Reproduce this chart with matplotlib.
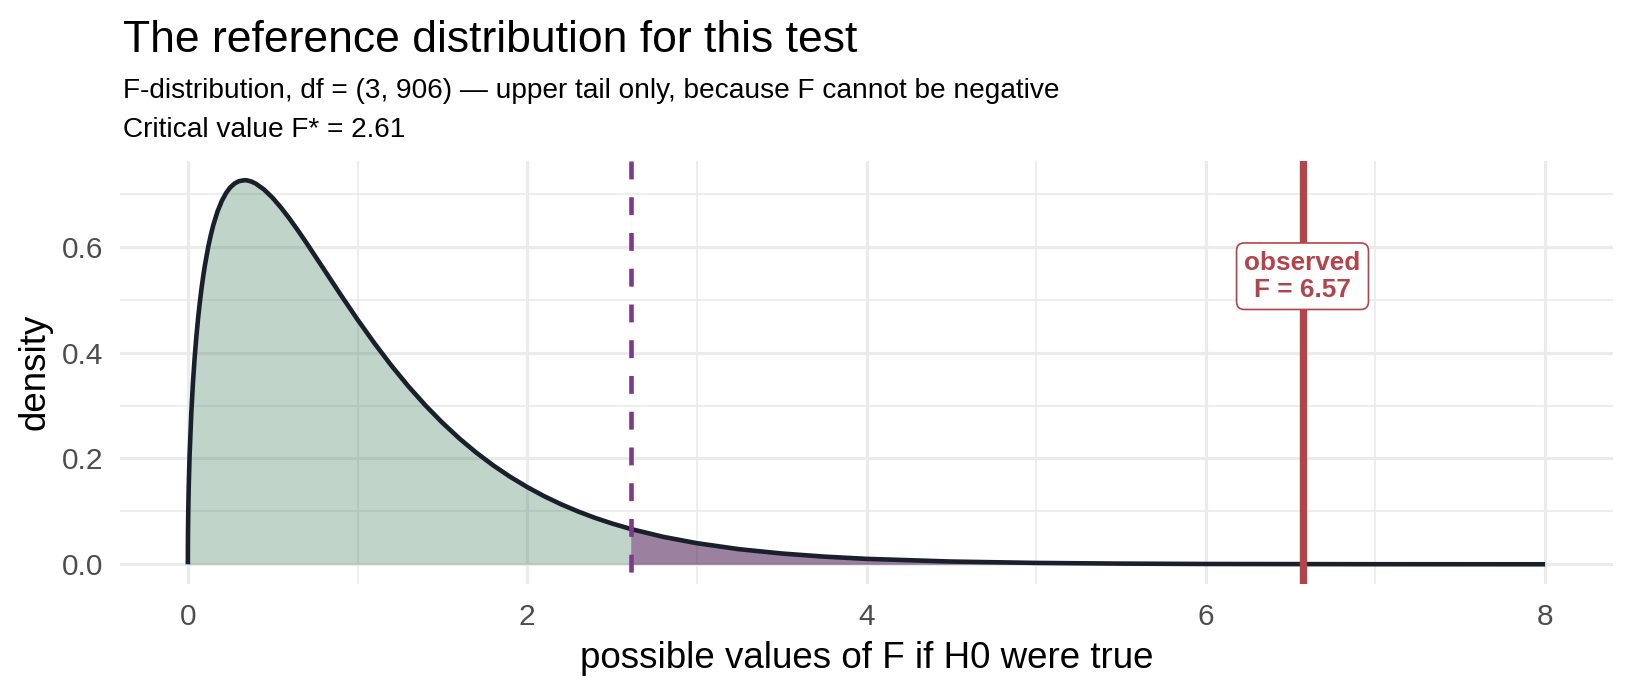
import matplotlib
matplotlib.use("Agg")
import matplotlib.pyplot as plt
import numpy as np

# ---- data ----
f_x = [0.0, 0.0002, 0.0005, 0.001, 0.0025, 0.005, 0.01, 0.02, 0.03, 0.04, 0.05,
       0.06, 0.07, 0.08, 0.09, 0.10, 0.12, 0.135, 0.15, 0.175, 0.20, 0.225, 0.25,
       0.275, 0.30, 0.3333, 0.35, 0.375, 0.40, 0.45, 0.50, 0.55, 0.60, 0.65, 0.70,
       0.80, 0.90, 1.00, 1.10, 1.20, 1.30, 1.40, 1.50, 1.60, 1.70, 1.80, 1.90,
       2.00, 2.10, 2.20, 2.30, 2.40, 2.50, 2.61, 2.80, 3.00, 3.25, 3.50, 3.75,
       4.00, 4.50, 5.00, 5.50, 6.00, 7.00, 8.00]
density = [0.0, 0.0293, 0.0464, 0.0655, 0.1032, 0.1455, 0.2042, 0.2845, 0.3433,
           0.3904, 0.4300, 0.4641, 0.4938, 0.5200, 0.5434, 0.5642, 0.5998, 0.6220,
           0.6411, 0.6670, 0.6868, 0.7016, 0.7124, 0.7196, 0.7240, 0.7259, 0.7255,
           0.7233, 0.7195, 0.7080, 0.6924, 0.6737, 0.6528, 0.6304, 0.6069, 0.5584,
           0.5098, 0.4625, 0.4176, 0.3754, 0.3363, 0.3004, 0.2676, 0.2379, 0.2110,
           0.1869, 0.1653, 0.1460, 0.1287, 0.1134, 0.0998, 0.0877, 0.0771, 0.0668,
           0.0520, 0.0399, 0.0285, 0.0204, 0.0145, 0.0103, 0.0052, 0.0026, 0.0013,
           0.0006, 0.00015, 0.00004]
f_crit = 2.61
f_obs = 6.57
df_num, df_den = 3, 906
x_ticks = [0, 2, 4, 6, 8]
y_ticks = [0.0, 0.2, 0.4, 0.6]

title = "The reference distribution for this test"
subtitle1 = f"F-distribution, df = ({df_num}, {df_den}) \u2014 upper tail only, because F cannot be negative"
subtitle2 = f"Critical value F* = {f_crit:.2f}"
xlabel = "possible values of F if H0 were true"
ylabel = "density"
obs_label = f"observed\nF = {f_obs:.2f}"

# ---- style ----
plt.rcParams['font.family'] = ['Liberation Sans', 'DejaVu Sans']
W, H, DPI = 1632, 691, 100
fig = plt.figure(figsize=(W / DPI, H / DPI), dpi=DPI)
L, R, B, T = 120, 1613, 583.5, 161
ax = fig.add_axes([L / W, 1 - B / H, (R - L) / W, (B - T) / H])

xa = np.array(f_x)
ya = np.array(density)
ymax = ya.max()

ax.set_xlim(-0.4, 8.4)
ax.set_ylim(-0.05 * ymax, ymax * 1.05)

# grid
for v in [1, 3, 5, 7]:
    ax.axvline(v, color='#EBEBEB', lw=1.2, zorder=0)
for v in [0.1, 0.3, 0.5, 0.7]:
    ax.axhline(v, color='#EBEBEB', lw=1.2, zorder=0)
for v in x_ticks:
    ax.axvline(v, color='#EBEBEB', lw=2.3, zorder=0)
for v in y_ticks:
    ax.axhline(v, color='#EBEBEB', lw=2.3, zorder=0)

left = xa <= f_crit
right = xa >= f_crit
ax.fill_between(xa[left], 0, ya[left], color='#30734E', alpha=0.30, lw=0, zorder=1)
ax.fill_between(xa[right], 0, ya[right], color='#4A1852', alpha=0.55, lw=0, zorder=1)

ax.plot(xa, ya, color='#1A1F2C', lw=3.3, zorder=3, solid_capstyle='butt',
        solid_joinstyle='round')

# dashed critical line drawn from the panel top downward
ax.vlines(f_crit, 1, 0, transform=ax.get_xaxis_transform(), colors='#7E3A8A',
          lw=3.3, linestyles=[(0, (3.9, 3.9))], zorder=4)
ax.axvline(f_obs, color='#B5434A', lw=5.3, zorder=4)

ax.text(f_obs, 0.75 * ymax, obs_label, color='#B5434A', fontsize=18.8,
        fontweight='bold', ha='center', va='center', linespacing=1.15, zorder=5,
        bbox=dict(boxstyle='round,pad=0.3,rounding_size=0.3', fc='white',
                  ec='#B5434A', lw=1.2))

ax.set_xticks(x_ticks)
ax.set_xticklabels([f"{v:g}" for v in x_ticks])
ax.set_yticks(y_ticks)
ax.set_yticklabels([f"{v:.1f}" for v in y_ticks])
ax.tick_params(axis='both', length=0, labelsize=21.5, colors='#4D4D4D')
ax.tick_params(axis='x', pad=14)
ax.tick_params(axis='y', pad=12)
for s in ax.spines.values():
    s.set_visible(False)

fig.text(123 / W, 1 - 51.7 / H, title, fontsize=32, ha='left', va='baseline', color='black')
fig.text(123 / W, 1 - 98.3 / H, subtitle1, fontsize=20.2, ha='left', va='baseline', color='black')
fig.text(123 / W, 1 - 136.7 / H, subtitle2, fontsize=20.2, ha='left', va='baseline', color='black')
fig.text((L + R) / 2 / W, 1 - 668 / H, xlabel, fontsize=26.5, ha='center', va='baseline', color='black')
fig.text(35 / W, 1 - (B + T) / 2 / H, ylabel, fontsize=26.5, rotation=90, ha='center', va='center', color='black')

fig.savefig("out.png", dpi=DPI, facecolor='white')
